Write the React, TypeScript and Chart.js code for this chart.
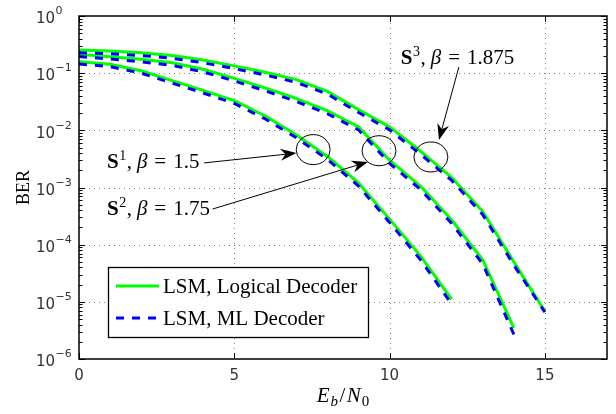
import React, { useEffect, useRef } from 'react';
import { Chart, registerables } from 'chart.js';

Chart.register(...registerables);

// ---------------- data ----------------
const ebn0S1 = [0, 1, 2, 3, 4, 5, 6, 7, 8, 9, 10, 11, 12];
const ebn0S2 = [0, 1, 2, 3, 4, 5, 6, 7, 8, 9, 10, 11, 12, 13, 14];
const ebn0S3 = [0, 1, 2, 3, 4, 5, 6, 7, 8, 9, 10, 11, 12, 13, 14, 15];

const berLogicalS1 = [0.158, 0.143, 0.11, 0.074, 0.05, 0.033, 0.0178, 0.0083, 0.0035, 0.0012, 2.8e-4, 6.3e-5, 1.1e-5];
const berMLS1 = [0.145, 0.13, 0.1, 0.067, 0.045, 0.0295, 0.0158, 0.0074, 0.0031, 0.00106, 2.45e-4, 5.4e-5, 9.1e-6];

const berLogicalS2 = [0.214, 0.194, 0.175, 0.152, 0.117, 0.081, 0.055, 0.036, 0.022, 0.0115, 0.003, 0.00105, 2.7e-4, 5.4e-5, 3.5e-6];
const berMLS2 = [0.195, 0.177, 0.158, 0.137, 0.105, 0.073, 0.049, 0.032, 0.0195, 0.0102, 0.00265, 9.2e-4, 2.35e-4, 4.6e-5, 2.7e-6];

const berLogicalS3 = [0.255, 0.244, 0.228, 0.203, 0.17, 0.134, 0.104, 0.077, 0.048, 0.023, 0.0115, 0.0043, 0.0015, 3.8e-4, 5.0e-5, 6.8e-6];
const berMLS3 = [0.228, 0.218, 0.204, 0.182, 0.152, 0.12, 0.093, 0.069, 0.043, 0.0205, 0.0102, 0.0038, 0.00133, 3.35e-4, 4.4e-5, 6.6e-6];

const xTickValues = [0, 5, 10, 15];
const yTickExponents = [0, -1, -2, -3, -4, -5, -6];
const yMinorMultipliers = [2, 3, 4, 5, 6, 7, 8, 9];

const legendLabels = ['LSM, Logical Decoder', 'LSM, ML Decoder'];
const xAxisTitle = { main1: 'E', sub1: 'b', slash: '/', main2: 'N', sub2: '0' };
const yAxisTitle = 'BER';

const annotationLabels = [
  { sup: '1', beta: '1.5', x: 0.9, y: 2.19e-3 },
  { sup: '2', beta: '1.75', x: 0.9, y: 3.3e-4 },
  { sup: '3', beta: '1.875', x: 10.36, y: 0.145 },
];
const annotationCircles = [
  { x: 7.54, y: 4.6e-3 },
  { x: 9.66, y: 4.4e-3 },
  { x: 11.33, y: 3.42e-3 },
];
const annotationArrows = [
  { x1: 4.03, y1: 2.69e-3, x2: 7.0, y2: 4.0e-3 },
  { x1: 4.3, y1: 4.2e-4, x2: 9.3, y2: 2.8e-3 },
  { x1: 12.23, y1: 0.128, x2: 11.59, y2: 6.8e-3 },
];

// ---------------- styles ----------------
const GREEN = '#00ff00';
const BLUE = '#0000ff';
const DASH = [8, 8];
const SERIF = '"Liberation Serif", "Times New Roman", serif';
const SANS = '"DejaVu Sans", sans-serif';
const TICK_COLOR = '#333';

type Run = { t: string; f: string; dy?: number; dx?: number };

function runsWidth(ctx: CanvasRenderingContext2D, runs: Run[]) {
  let w = 0;
  for (const r of runs) {
    ctx.font = r.f;
    w += ctx.measureText(r.t).width + (r.dx || 0);
  }
  return w;
}

function drawRuns(ctx: CanvasRenderingContext2D, runs: Run[], x: number, y: number) {
  let cx = x;
  for (const r of runs) {
    ctx.font = r.f;
    cx += r.dx || 0;
    ctx.fillText(r.t, cx, y + (r.dy || 0));
    cx += ctx.measureText(r.t).width;
  }
}

function mk(xs: number[], ys: number[]) {
  return xs.map((x, i) => ({ x, y: ys[i] }));
}

const decorPlugin = {
  id: 'decor',
  beforeDatasetsDraw(chart: any) {
    const { ctx, chartArea: a, scales } = chart;
    const xs = scales.x;
    const ys = scales.y;
    ctx.save();
    ctx.strokeStyle = 'rgba(0,0,0,0.5)';
    ctx.lineWidth = 1;
    ctx.setLineDash([1, 4]);
    for (const v of xTickValues) {
      const px = Math.round(xs.getPixelForValue(v)) + 0.5;
      if (px <= a.left + 1 || px >= a.right - 1) continue;
      ctx.beginPath();
      ctx.moveTo(px, a.bottom);
      ctx.lineTo(px, a.top);
      ctx.stroke();
    }
    for (const e of yTickExponents) {
      const py = Math.round(ys.getPixelForValue(Math.pow(10, e))) + 0.5;
      if (py <= a.top + 1 || py >= a.bottom - 1) continue;
      ctx.beginPath();
      ctx.moveTo(a.left, py);
      ctx.lineTo(a.right, py);
      ctx.stroke();
    }
    ctx.restore();
  },
  afterDatasetsDraw(chart: any) {
    const { ctx, chartArea: a, scales } = chart;
    const xs = scales.x;
    const ys = scales.y;
    ctx.save();
    ctx.setLineDash([]);

    // frame
    ctx.strokeStyle = '#000';
    ctx.lineWidth = 1.5;
    ctx.strokeRect(a.left, a.top, a.right - a.left, a.bottom - a.top);

    // ticks
    ctx.lineWidth = 1;
    ctx.beginPath();
    for (const v of xTickValues) {
      const px = Math.round(xs.getPixelForValue(v)) + 0.5;
      ctx.moveTo(px, a.bottom);
      ctx.lineTo(px, a.bottom - 6);
      ctx.moveTo(px, a.top);
      ctx.lineTo(px, a.top + 6);
    }
    for (const e of yTickExponents) {
      const py = Math.round(ys.getPixelForValue(Math.pow(10, e))) + 0.5;
      ctx.moveTo(a.left, py);
      ctx.lineTo(a.left + 6, py);
      ctx.moveTo(a.right, py);
      ctx.lineTo(a.right - 6, py);
    }
    for (let e = yTickExponents[yTickExponents.length - 1]; e < yTickExponents[0]; e++) {
      for (const m of yMinorMultipliers) {
        const py = Math.round(ys.getPixelForValue(m * Math.pow(10, e))) + 0.5;
        ctx.moveTo(a.left, py);
        ctx.lineTo(a.left + 3.5, py);
        ctx.moveTo(a.right, py);
        ctx.lineTo(a.right - 3.5, py);
      }
    }
    ctx.stroke();

    // y tick labels
    ctx.fillStyle = TICK_COLOR;
    ctx.textAlign = 'left';
    ctx.textBaseline = 'alphabetic';
    for (const e of yTickExponents) {
      const py = ys.getPixelForValue(Math.pow(10, e));
      const expText = e < 0 ? '\u2212' + Math.abs(e) : String(e);
      drawRuns(ctx, [
        { t: '10', f: `15px ${SANS}` },
        { t: expText, f: `11px ${SANS}`, dy: -9, dx: 0.5 },
      ], 36, py + 7.3);
    }
    // x tick labels
    ctx.textAlign = 'center';
    ctx.font = `15px ${SANS}`;
    for (const v of xTickValues) {
      ctx.fillText(String(v), xs.getPixelForValue(v), a.bottom + 21);
    }

    // x axis title
    ctx.fillStyle = '#000';
    ctx.textAlign = 'left';
    const xt: Run[] = [
      { t: xAxisTitle.main1, f: `italic 21px ${SERIF}` },
      { t: xAxisTitle.sub1, f: `italic 15px ${SERIF}`, dy: 4, dx: 1 },
      { t: xAxisTitle.slash, f: `21px ${SERIF}`, dx: 1.5 },
      { t: xAxisTitle.main2, f: `italic 21px ${SERIF}`, dx: 1.5 },
      { t: xAxisTitle.sub2, f: `15px ${SERIF}`, dy: 4, dx: 1 },
    ];
    const xw = runsWidth(ctx, xt);
    drawRuns(ctx, xt, (a.left + a.right) / 2 - xw / 2, a.bottom + 43);

    // y axis title
    ctx.save();
    ctx.translate(28.5, (a.top + a.bottom) / 2);
    ctx.rotate(-Math.PI / 2);
    ctx.textAlign = 'center';
    ctx.font = `18px ${SERIF}`;
    ctx.fillText(yAxisTitle, 0, 0);
    ctx.restore();

    // annotations: circles
    ctx.strokeStyle = '#000';
    ctx.lineWidth = 1;
    for (const c of annotationCircles) {
      const cx = xs.getPixelForValue(c.x);
      const cy = ys.getPixelForValue(c.y);
      ctx.beginPath();
      ctx.ellipse(cx, cy, 17, 15, 0, 0, Math.PI * 2);
      ctx.stroke();
    }
    // arrows
    ctx.fillStyle = '#000';
    for (const ar of annotationArrows) {
      const x1 = xs.getPixelForValue(ar.x1);
      const y1 = ys.getPixelForValue(ar.y1);
      const x2 = xs.getPixelForValue(ar.x2);
      const y2 = ys.getPixelForValue(ar.y2);
      const ang = Math.atan2(y2 - y1, x2 - x1);
      const len = 16;
      const hw = 6;
      const notch = 5;
      const cos = Math.cos(ang);
      const sin = Math.sin(ang);
      const bx = x2 - len * cos;
      const by = y2 - len * sin;
      ctx.beginPath();
      ctx.moveTo(x1, y1);
      ctx.lineTo(bx + notch * cos, by + notch * sin);
      ctx.stroke();
      ctx.beginPath();
      ctx.moveTo(x2, y2);
      ctx.lineTo(bx - hw * sin, by + hw * cos);
      ctx.lineTo(bx + notch * cos, by + notch * sin);
      ctx.lineTo(bx + hw * sin, by - hw * cos);
      ctx.closePath();
      ctx.fill();
    }
    // labels
    ctx.textAlign = 'left';
    for (const l of annotationLabels) {
      const lx = xs.getPixelForValue(l.x);
      const ly = ys.getPixelForValue(l.y);
      drawRuns(ctx, [
        { t: 'S', f: `bold 21px ${SERIF}` },
        { t: l.sup, f: `14px ${SERIF}`, dy: -8, dx: 0.5 },
        { t: ',', f: `21px ${SERIF}`, dx: 0.5 },
        { t: '\u03B2', f: `italic 21px ${SERIF}`, dx: 5 },
        { t: '=', f: `21px ${SERIF}`, dx: 7 },
        { t: l.beta, f: `21px ${SERIF}`, dx: 7 },
      ], lx, ly);
    }

    // legend
    const lx0 = 108, ly0 = 267, lx1 = 368, ly1 = 337;
    ctx.fillStyle = '#fff';
    ctx.fillRect(lx0, ly0, lx1 - lx0, ly1 - ly0);
    ctx.strokeStyle = '#000';
    ctx.lineWidth = 1.3;
    ctx.strokeRect(lx0 + 0.5, ly0 + 0.5, lx1 - lx0, ly1 - ly0);
    const entries = [
      { color: GREEN, dash: [] as number[], y: 286, text: legendLabels[0] },
      { color: BLUE, dash: DASH, y: 318, text: legendLabels[1] },
    ];
    for (const en of entries) {
      ctx.strokeStyle = en.color;
      ctx.lineWidth = 3;
      ctx.setLineDash(en.dash);
      ctx.beginPath();
      ctx.moveTo(116, en.y);
      ctx.lineTo(159, en.y);
      ctx.stroke();
      ctx.setLineDash([]);
      ctx.fillStyle = '#000';
      ctx.font = `21px ${SERIF}`;
      ctx.fillText(en.text, 163, en.y + 6.5);
    }
    ctx.restore();
  },
};

export default function App() {
  const ref = useRef<HTMLCanvasElement | null>(null);
  useEffect(() => {
    if (!ref.current) return;
    const series = [
      { xs: ebn0S1, g: berLogicalS1, b: berMLS1 },
      { xs: ebn0S2, g: berLogicalS2, b: berMLS2 },
      { xs: ebn0S3, g: berLogicalS3, b: berMLS3 },
    ];
    const datasets: any[] = [];
    series.forEach((s, i) => {
      datasets.push({
        label: legendLabels[0] + ' S' + (i + 1),
        data: mk(s.xs, s.g),
        borderColor: GREEN,
        borderWidth: 3,
        pointRadius: 0,
        fill: false,
        tension: 0,
        borderJoinStyle: 'round',
        order: 2,
      });
      datasets.push({
        label: legendLabels[1] + ' S' + (i + 1),
        data: mk(s.xs, s.b),
        borderColor: BLUE,
        borderWidth: 3,
        borderDash: DASH,
        pointRadius: 0,
        fill: false,
        tension: 0,
        order: 1,
      });
    });
    const chart = new Chart(ref.current, {
      type: 'line',
      data: { datasets },
      options: {
        animation: false,
        responsive: false,
        devicePixelRatio: 1,
        layout: { padding: { top: 16, right: 9, left: 0, bottom: 0 } },
        plugins: { legend: { display: false }, tooltip: { enabled: false } },
        scales: {
          x: {
            type: 'linear',
            min: 0,
            max: 17,
            grid: { display: false },
            border: { display: false },
            ticks: { display: false },
            afterFit: (s: any) => { s.height = 55; },
          },
          y: {
            type: 'logarithmic',
            min: 1e-6,
            max: 1,
            grid: { display: false },
            border: { display: false },
            ticks: { display: false },
            afterFit: (s: any) => { s.width = 79; },
          },
        },
      } as any,
      plugins: [decorPlugin],
    });
    return () => chart.destroy();
  }, []);
  return (
    <div style={{ position: 'fixed', left: 0, top: 0, width: 616, height: 414, background: '#fff' }}>
      <canvas ref={ref} width={616} height={414} />
    </div>
  );
}
